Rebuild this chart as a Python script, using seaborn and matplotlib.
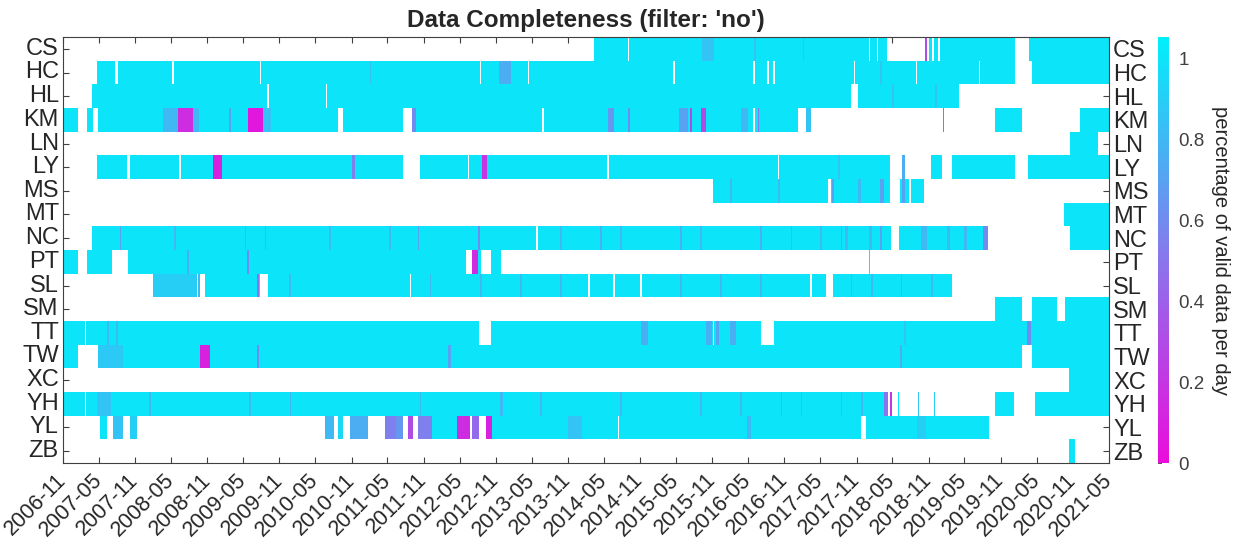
import numpy as np
import pandas as pd
import matplotlib
matplotlib.use("Agg")
import matplotlib.pyplot as plt
from matplotlib.colors import LinearSegmentedColormap
import seaborn as sns

stations = ["CS", "HC", "HL", "KM", "LN", "LY", "MS", "MT", "NC",
            "PT", "SL", "SM", "TT", "TW", "XC", "YH", "YL", "ZB"]

# Periods per station: (first day, last day, share of valid data per day).
# Later entries override earlier ones; None marks days without data.
CS = [("2014-03-10", "2018-04-01", 1.0), ("2014-09-01", "2014-09-07", None),
      ("2015-09-10", "2015-11-10", 0.85), ("2016-06-01", "2016-06-08", 0.85),
      ("2017-02-01", "2017-02-08", 0.85), ("2018-01-01", "2018-01-07", None),
      ("2018-02-10", "2018-02-17", None), ("2018-10-12", "2018-10-24", 0.3),
      ("2018-11-01", "2019-02-10", 1.0), ("2018-11-20", "2018-11-28", None),
      ("2018-12-20", "2018-12-28", None), ("2019-02-10", "2020-01-10", 1.0),
      ("2020-03-25", "2021-05-01", 1.0)]
HC = [("2007-04-20", "2020-01-10", 1.0), ("2007-07-20", "2007-08-05", None),
      ("2008-05-08", "2008-05-14", None), ("2009-07-25", "2009-08-01", None),
      ("2011-02-01", "2011-02-08", 0.85), ("2012-08-12", "2012-08-18", None),
      ("2012-11-15", "2013-01-15", 0.75), ("2013-04-12", "2013-04-18", None),
      ("2015-04-18", "2015-04-25", None), ("2016-05-28", "2016-06-04", None),
      ("2016-08-05", "2016-08-12", None), ("2016-09-05", "2016-09-14", None),
      ("2017-10-18", "2017-10-25", None), ("2018-03-01", "2018-03-10", 0.85),
      ("2018-08-29", "2018-09-04", None), ("2019-07-12", "2019-07-18", None),
      ("2020-04-05", "2021-05-01", 1.0)]
HL = [("2007-03-26", "2019-04-01", 1.0), ("2009-09-01", "2009-09-06", None),
      ("2010-06-25", "2010-07-01", None), ("2017-10-05", "2017-11-08", None),
      ("2018-05-01", "2018-05-10", 0.85), ("2018-12-01", "2018-12-10", 0.85)]
KM = [("2006-11-01", "2007-01-16", 1.0), ("2007-03-01", "2007-04-01", 1.0),
      ("2007-04-25", "2017-03-15", 1.0), ("2008-03-20", "2008-06-05", 0.8),
      ("2008-06-05", "2008-08-20", 0.15), ("2008-08-20", "2008-09-20", 0.8),
      ("2009-02-20", "2009-03-01", 0.7), ("2009-05-25", "2009-08-10", 0.05),
      ("2009-08-10", "2009-09-20", 0.85), ("2010-08-25", "2010-09-20", None),
      ("2011-07-20", "2011-09-05", None), ("2011-09-05", "2011-09-20", 0.6),
      ("2013-06-22", "2013-06-30", None), ("2014-05-20", "2014-06-20", 0.65),
      ("2014-09-01", "2014-09-10", 0.6), ("2015-05-15", "2015-07-01", 0.7),
      ("2015-07-10", "2015-07-20", 0.3), ("2015-09-05", "2015-10-01", 0.3),
      ("2016-03-25", "2016-05-01", 0.8), ("2016-05-28", "2016-06-04", None),
      ("2016-06-18", "2016-06-25", 0.55), ("2017-01-10", "2017-02-20", None),
      ("2017-02-20", "2017-03-15", 0.85), ("2019-01-12", "2019-01-16", 0.5),
      ("2019-10-01", "2020-02-15", 1.0), ("2020-12-05", "2021-05-01", 1.0)]
LN = [("2020-10-15", "2021-03-05", 1.0)]
LY = [("2007-04-20", "2011-07-20", 1.0), ("2007-09-20", "2007-10-05", None),
      ("2008-06-12", "2008-06-18", None), ("2008-12-01", "2009-01-15", 0.1),
      ("2010-11-01", "2010-11-15", 0.55), ("2011-10-15", "2018-04-20", 1.0),
      ("2012-06-12", "2012-06-18", None), ("2012-08-20", "2012-09-15", 0.2),
      ("2014-05-18", "2014-05-24", None), ("2016-09-28", "2016-10-04", None),
      ("2017-08-01", "2017-08-10", 0.85), ("2018-06-20", "2018-07-05", 0.75),
      ("2018-11-15", "2019-01-05", 1.0), ("2019-02-25", "2020-01-10", 1.0),
      ("2020-03-20", "2021-05-01", 1.0)]
MS = [("2015-11-05", "2018-04-20", 1.0), ("2016-02-01", "2016-02-10", 0.8),
      ("2016-10-01", "2016-10-10", 0.8), ("2017-06-10", "2017-06-25", None),
      ("2017-07-01", "2017-07-10", 0.7), ("2017-11-10", "2017-11-20", 0.8),
      ("2018-03-01", "2018-03-20", 0.7), ("2018-06-10", "2018-10-05", 1.0),
      ("2018-06-20", "2018-07-05", 0.7), ("2018-07-25", "2018-08-05", None)]
MT = [("2020-09-15", "2021-05-01", 1.0)]
NC = [("2007-03-26", "2019-08-25", 1.0), ("2007-08-15", "2007-08-22", 0.7),
      ("2008-05-18", "2008-05-25", 0.8), ("2009-05-08", "2009-05-15", 0.8),
      ("2009-08-18", "2009-08-25", 0.75), ("2010-07-12", "2010-07-20", 0.8),
      ("2011-05-12", "2011-05-20", 0.8), ("2011-10-01", "2011-10-08", 0.7),
      ("2012-08-01", "2012-08-10", 0.6), ("2013-05-25", "2013-06-01", None),
      ("2013-09-22", "2013-09-30", 0.8), ("2014-04-12", "2014-04-20", 0.75),
      ("2014-07-22", "2014-07-30", 0.8), ("2015-05-22", "2015-05-30", 0.75),
      ("2015-09-02", "2015-09-10", 0.8), ("2016-07-02", "2016-07-10", 0.75),
      ("2016-12-02", "2016-12-10", 0.8), ("2017-05-02", "2017-05-10", 0.8),
      ("2017-08-12", "2017-08-20", 0.75), ("2017-09-01", "2017-09-20", 0.8),
      ("2018-01-01", "2018-01-15", 0.8), ("2018-03-02", "2018-03-10", 0.7),
      ("2018-04-25", "2018-06-01", None), ("2018-09-22", "2018-10-20", 0.8),
      ("2019-02-01", "2019-02-15", 0.8), ("2019-05-01", "2019-05-15", 0.8),
      ("2019-08-01", "2019-08-25", 0.6), ("2020-10-15", "2021-05-01", 1.0)]
PT = [("2006-11-01", "2007-01-16", 1.0), ("2007-03-05", "2007-07-05", 1.0),
      ("2007-09-25", "2012-11-25", 1.0), ("2008-07-20", "2008-08-01", 0.75),
      ("2009-05-20", "2009-06-01", 0.6), ("2012-06-01", "2012-07-05", None),
      ("2012-07-05", "2012-08-01", 0.15), ("2012-08-15", "2012-10-05", None),
      ("2018-01-03", "2018-01-06", 1.0)]
SL = [("2008-02-01", "2019-02-25", 1.0), ("2008-02-01", "2008-09-10", 0.9),
      ("2008-09-10", "2008-10-20", None), ("2008-09-15", "2008-09-25", 0.8),
      ("2009-07-10", "2009-07-20", 0.5), ("2009-07-25", "2009-09-05", None),
      ("2009-12-20", "2009-12-28", 0.8), ("2011-08-22", "2011-08-28", None),
      ("2011-12-01", "2011-12-08", 0.8), ("2012-08-12", "2012-08-20", 0.8),
      ("2013-03-02", "2013-03-10", 0.8), ("2013-09-22", "2013-09-30", 0.8),
      ("2014-02-12", "2014-02-20", None), ("2014-06-18", "2014-06-24", None),
      ("2014-11-02", "2014-11-08", None), ("2015-05-22", "2015-05-30", 0.8),
      ("2015-12-12", "2015-12-20", 0.8), ("2016-07-02", "2016-07-10", 0.8),
      ("2017-03-12", "2017-03-18", None), ("2017-06-01", "2017-07-05", None),
      ("2017-10-02", "2017-10-10", 0.8), ("2018-01-12", "2018-01-20", 0.8),
      ("2018-06-12", "2018-06-20", 0.8), ("2018-11-12", "2018-11-20", 0.8)]
SM = [("2019-10-01", "2020-02-15", 1.0), ("2020-04-05", "2020-08-10", 1.0),
      ("2020-09-20", "2021-05-01", 1.0)]
TT = [("2006-11-01", "2021-05-01", 1.0), ("2007-02-18", "2007-02-24", None),
      ("2007-06-10", "2007-06-20", 0.8), ("2007-07-25", "2007-08-05", 0.8),
      ("2012-08-05", "2012-10-05", None), ("2014-11-05", "2014-12-10", 0.75),
      ("2015-10-01", "2015-11-01", 0.75), ("2015-11-05", "2015-11-10", None),
      ("2015-11-20", "2015-12-05", 0.7), ("2016-02-01", "2016-03-01", 0.75),
      ("2016-07-05", "2016-09-10", None), ("2018-07-01", "2018-07-10", 0.85),
      ("2020-03-15", "2020-04-01", 0.6)]
TW = [("2006-11-01", "2007-01-16", 1.0), ("2007-04-25", "2020-02-15", 1.0),
      ("2007-04-25", "2007-09-01", 0.88), ("2008-09-25", "2008-11-15", 0.1),
      ("2009-07-10", "2009-07-20", 0.6), ("2012-03-05", "2012-03-15", 0.7),
      ("2018-06-10", "2018-06-20", 0.75), ("2020-04-05", "2021-05-01", 1.0)]
XC = [("2020-10-10", "2021-05-01", 1.0)]
YH = [("2006-11-01", "2018-03-20", 1.0), ("2007-02-18", "2007-02-24", None),
      ("2007-04-20", "2007-07-01", 0.85), ("2008-01-12", "2008-01-20", 0.8),
      ("2009-06-02", "2009-06-10", 0.8), ("2009-12-22", "2009-12-30", 0.8),
      ("2011-10-12", "2011-10-20", 0.8), ("2012-11-20", "2012-12-05", 0.8),
      ("2013-06-12", "2013-06-20", 0.8), ("2014-07-22", "2014-07-30", 0.8),
      ("2015-09-02", "2015-09-10", 0.8), ("2016-03-22", "2016-03-30", 0.8),
      ("2016-10-12", "2016-10-20", 0.8), ("2017-01-22", "2017-01-30", 0.8),
      ("2017-08-12", "2017-08-20", 0.8), ("2017-11-22", "2017-11-30", 0.8),
      ("2018-03-20", "2018-04-10", 0.5), ("2018-04-20", "2018-04-28", 0.2),
      ("2018-05-30", "2018-06-03", 1.0), ("2018-09-08", "2018-09-14", 0.85),
      ("2018-11-29", "2018-12-03", 0.9), ("2019-10-01", "2020-01-05", 1.0),
      ("2020-04-20", "2021-05-01", 1.0)]
YL = [("2007-05-05", "2007-06-10", 1.0), ("2007-07-10", "2007-09-01", 0.85),
      ("2007-10-05", "2007-11-10", 0.9), ("2010-06-20", "2010-08-01", 0.8),
      ("2010-08-25", "2010-09-20", 0.95), ("2010-10-25", "2011-01-20", 0.75),
      ("2011-04-20", "2011-06-15", 0.55), ("2011-06-15", "2011-07-20", 0.65),
      ("2011-08-15", "2011-09-05", 0.3), ("2011-10-05", "2011-12-15", 0.55),
      ("2011-12-15", "2012-04-20", 1.0), ("2012-04-20", "2012-06-20", 0.15),
      ("2012-07-05", "2012-08-05", 0.45), ("2012-09-10", "2012-10-10", 0.1),
      ("2012-10-10", "2019-09-01", 1.0), ("2013-11-01", "2014-01-10", 0.85),
      ("2014-07-12", "2014-07-18", None), ("2016-04-25", "2016-05-15", 0.8),
      ("2017-11-25", "2017-12-20", None), ("2018-09-01", "2018-10-15", 0.9)]
ZB = [("2020-10-12", "2020-11-08", 1.0)]

station_periods = [CS, HC, HL, KM, LN, LY, MS, MT, NC,
                   PT, SL, SM, TT, TW, XC, YH, YL, ZB]

tick_labels = ["2006-11", "2007-05", "2007-11", "2008-05", "2008-11", "2009-05",
               "2009-11", "2010-05", "2010-11", "2011-05", "2011-11", "2012-05",
               "2012-11", "2013-05", "2013-11", "2014-05", "2014-11", "2015-05",
               "2015-11", "2016-05", "2016-11", "2017-05", "2017-11", "2018-05",
               "2018-11", "2019-05", "2019-11", "2020-05", "2020-11", "2021-05"]

cbar_ticks = [0, 0.2, 0.4, 0.6, 0.8, 1]
cbar_labels = ["0", "0.2", "0.4", "0.6", "0.8", "1"]

days = pd.date_range("2006-11-01", "2021-05-01", freq="D")


def daily_row(periods):
    row = np.full(len(days), np.nan)
    for start, end, value in periods:
        sel = (days >= pd.Timestamp(start)) & (days <= pd.Timestamp(end))
        row[sel] = np.nan if value is None else value
    return row


grid = pd.DataFrame([daily_row(p) for p in station_periods],
                    index=stations, columns=days)

# magenta (no valid data) through violet-blue to cyan (complete day)
completeness_cmap = LinearSegmentedColormap.from_list(
    "completeness", [(0.92, 0.05, 0.86), (0.52, 0.48, 0.93), (0.0, 0.94, 0.98)])

sns.set_theme(style="white")
plt.rcParams["font.family"] = ["Liberation Sans", "DejaVu Sans"]
text_color = "#262626"

W, H = 1243, 550
fig = plt.figure(figsize=(W / 100, H / 100), dpi=100)
ax = fig.add_axes([63 / W, 1 - 463 / H, (1109 - 63) / W, 426 / H])
cax = fig.add_axes([1158 / W, 1 - 463 / H, 11 / W, 426 / H])

sns.heatmap(grid, ax=ax, cbar_ax=cax, cmap=completeness_cmap, vmin=0,
            vmax=1.053, xticklabels=False, yticklabels=stations,
            linewidths=0, rasterized=True)

tick_pos = [(pd.Timestamp(t + "-01") - days[0]).days for t in tick_labels]
ax.set_xticks(tick_pos)
ax.set_xticklabels(tick_labels, rotation=45, ha="right", va="center",
                   rotation_mode="anchor", fontsize=15.5, color=text_color)
ax.set_yticks(np.arange(len(stations)) + 0.5)
ax.set_yticklabels(stations, rotation=0, fontsize=17, color=text_color)
ax.tick_params(axis="both", direction="in", length=4, width=0.8,
               color="#404040", top=True, bottom=True, left=True, right=True,
               labelleft=True, labelright=True)
ax.tick_params(axis="x", pad=10)
ax.tick_params(axis="y", pad=3)
for spine in ax.spines.values():
    spine.set_visible(True)
    spine.set_color("#404040")
    spine.set_linewidth(0.8)
ax.set_xlabel("")
ax.set_ylabel("")
ax.set_title("Data Completeness (filter: 'no')", fontsize=17.5,
             fontweight="bold", color=text_color, pad=7)

cbar = ax.collections[0].colorbar
cbar.outline.set_visible(False)
cbar.set_ticks(cbar_ticks)
cbar.set_ticklabels(cbar_labels)
cbar.ax.tick_params(labelsize=13.5, colors="#404040", direction="in",
                    length=3, left=True, right=False, pad=7)
for lab in cbar.ax.get_yticklabels():
    lab.set_color("#404040")
cbar.set_label("percentage of valid data per day", rotation=270,
               fontsize=14.5, color=text_color, labelpad=18)

fig.savefig("out.png", dpi=100)
